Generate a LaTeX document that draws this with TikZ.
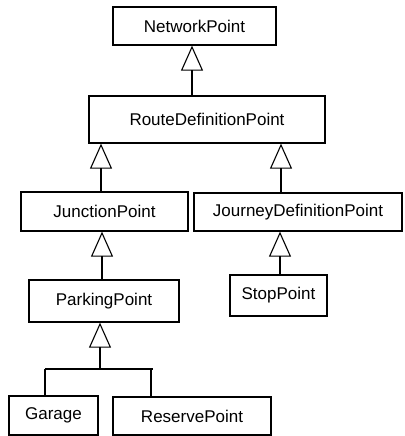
\documentclass[tikz,border=0pt]{standalone}
\usepackage{fontspec}
\setmainfont{Liberation Sans}
\usetikzlibrary{arrows.meta}
\tikzset{
  cls/.style={draw, rectangle, line width=1.3pt, inner sep=0pt, font=\fontsize{17}{20}\selectfont},
  inh/.style={line width=1.1pt, -{Triangle[open, length=25pt, width=22pt, line width=1.1pt]}},
  lnk/.style={line width=1.1pt}
}
\begin{document}
\begin{tikzpicture}[x=1pt,y=-1pt]
\useasboundingbox (0,0) rectangle (404,436);
\node[cls, minimum width=163pt, minimum height=38pt] (network) at (194.5,26) {NetworkPoint};
\node[cls, minimum width=236pt, minimum height=47pt] (route) at (207,119.5) {RouteDefinitionPoint};
\node[cls, minimum width=167pt, minimum height=39pt] (junction) at (104.5,211.5) {JunctionPoint};
\node[cls, minimum width=208pt, minimum height=38pt] (journey) at (298,212) {JourneyDefinitionPoint};
\node[cls, minimum width=150pt, minimum height=42pt] (parking) at (104,301) {ParkingPoint};
\node[cls, minimum width=97pt, minimum height=41pt] (stop) at (278.5,295.5) {StopPoint};
\node[cls, minimum width=89pt, minimum height=39pt] (garage) at (53.5,415.5) {Garage};
\node[cls, minimum width=158pt, minimum height=38pt] (reserve) at (192,416) {ReservePoint};
\coordinate (bar) at (100,369);
\draw[inh] (route.north -| 192,0) -- (network.south -| 192,0);
\draw[inh] (junction.north -| 101,0) -- (route.south -| 101,0);
\draw[inh] (journey.north -| 281,0) -- (route.south -| 281,0);
\draw[inh] (parking.north -| 102,0) -- (junction.south -| 102,0);
\draw[inh] (stop.north -| 280,0) -- (journey.south -| 280,0);
\draw[inh] (bar) -- (parking.south -| bar);
\draw[lnk] (bar -| 45,0) -- (bar -| 153,0);
\draw[lnk] (bar -| 45,0) -- (garage.north -| 45,0);
\draw[lnk] (bar -| 151,0) -- (reserve.north -| 151,0);
\end{tikzpicture}
\end{document}
